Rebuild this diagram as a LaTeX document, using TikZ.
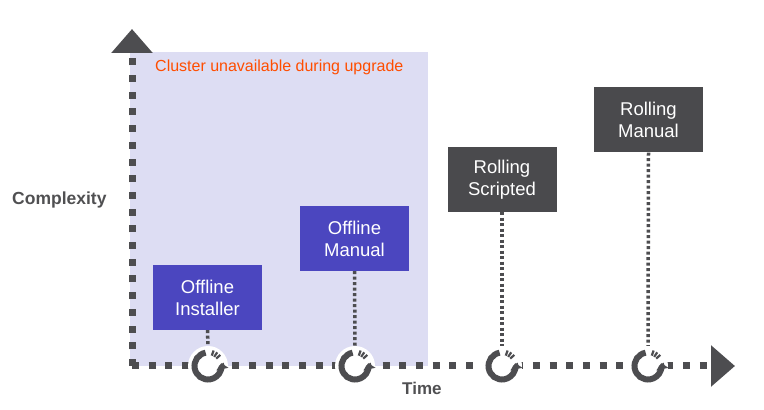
\documentclass[tikz,border=0pt]{standalone}
\usepackage{fontspec}
\setmainfont{Liberation Sans}
\usepackage{tikz}
\usetikzlibrary{calc,arrows.meta}

\definecolor{downtime}{HTML}{DDDDF3}
\definecolor{offline}{HTML}{4B46BF}
\definecolor{rolling}{HTML}{4A4A4D}
\definecolor{axisgray}{HTML}{4D4D50}
\definecolor{warn}{HTML}{FF4D00}
\definecolor{labelgray}{HTML}{505052}

\begin{document}
\begin{tikzpicture}[x=1pt, y=1pt,
    axisline/.style={draw=axisgray, line width=7pt, dash pattern=on 7pt off 9.7pt,
        -{Triangle[width=40pt, length=24pt]}},
    stagebox/.style={rectangle, minimum width=109pt, minimum height=65pt, inner sep=0pt,
        text=white, align=center, font=\fontsize{18.5}{22}\selectfont},
    ringnode/.style={circle, fill=white, minimum size=40pt, inner sep=0pt},
    link/.style={draw=axisgray, line width=3.5pt, dash pattern=on 3pt off 2.5pt}]
    \useasboundingbox (0, 0) rectangle (764, 410);
    % area where the cluster is down
    \fill [downtime] (130, 44) rectangle (428, 358);
    \node at (155, 338) [anchor=base west, inner sep=0pt, text=warn, font=\fontsize{16}{19}\selectfont] {Cluster unavailable during upgrade};
    % axes
    \coordinate (O) at (132, 44);
    \coordinate (top) at (132, 381);
    \coordinate (right) at (735, 44);
    \draw [axisline] (O) -- (top);
    \draw [axisline] (O) -- (right);
    \node at (12, 205.5) [anchor=base west, inner sep=0pt, text=labelgray, font=\bfseries\fontsize{17.5}{20}\selectfont] {Complexity};
    \node at (402, 15) [anchor=base west, inner sep=0pt, text=labelgray, font=\bfseries\fontsize{17}{20}\selectfont] {Time};
    % upgrade methods
    \node (oi) at (207.5, 112.5) [stagebox, fill=offline] {Offline\\Installer};
    \node (om) at (354.5, 171.5) [stagebox, fill=offline] {Offline\\Manual};
    \node (rs) at (502, 230.5) [stagebox, fill=rolling] {Rolling\\Scripted};
    \node (rm) at (648.5, 290) [stagebox, fill=rolling] {Rolling\\Manual};
    % upgrade icons on the time axis
    \foreach \n/\x in {r1/208, r2/355, r3/502, r4/648} {
        \node (\n) at (\x, 44) [ringnode] {};
        \draw [axisgray, line width=6pt, -{Triangle[width=12pt, length=6pt]}]
            ($(\n.center)+(100:13.5)$) arc [start angle=100, end angle=372, radius=13.5];
        \foreach \a in {42, 56, 70}
            \draw [axisgray, line width=2.2pt] ($(\n.center)+(\a:11)$) -- ($(\n.center)+(\a:16.5)$);
    }
    \draw [link] (oi.south) -- (r1.north);
    \draw [link] (om.south) -- (r2.north);
    \draw [link] (rs.south) -- (r3.north);
    \draw [link] (rm.south) -- (r4.north);
\end{tikzpicture}
\end{document}
